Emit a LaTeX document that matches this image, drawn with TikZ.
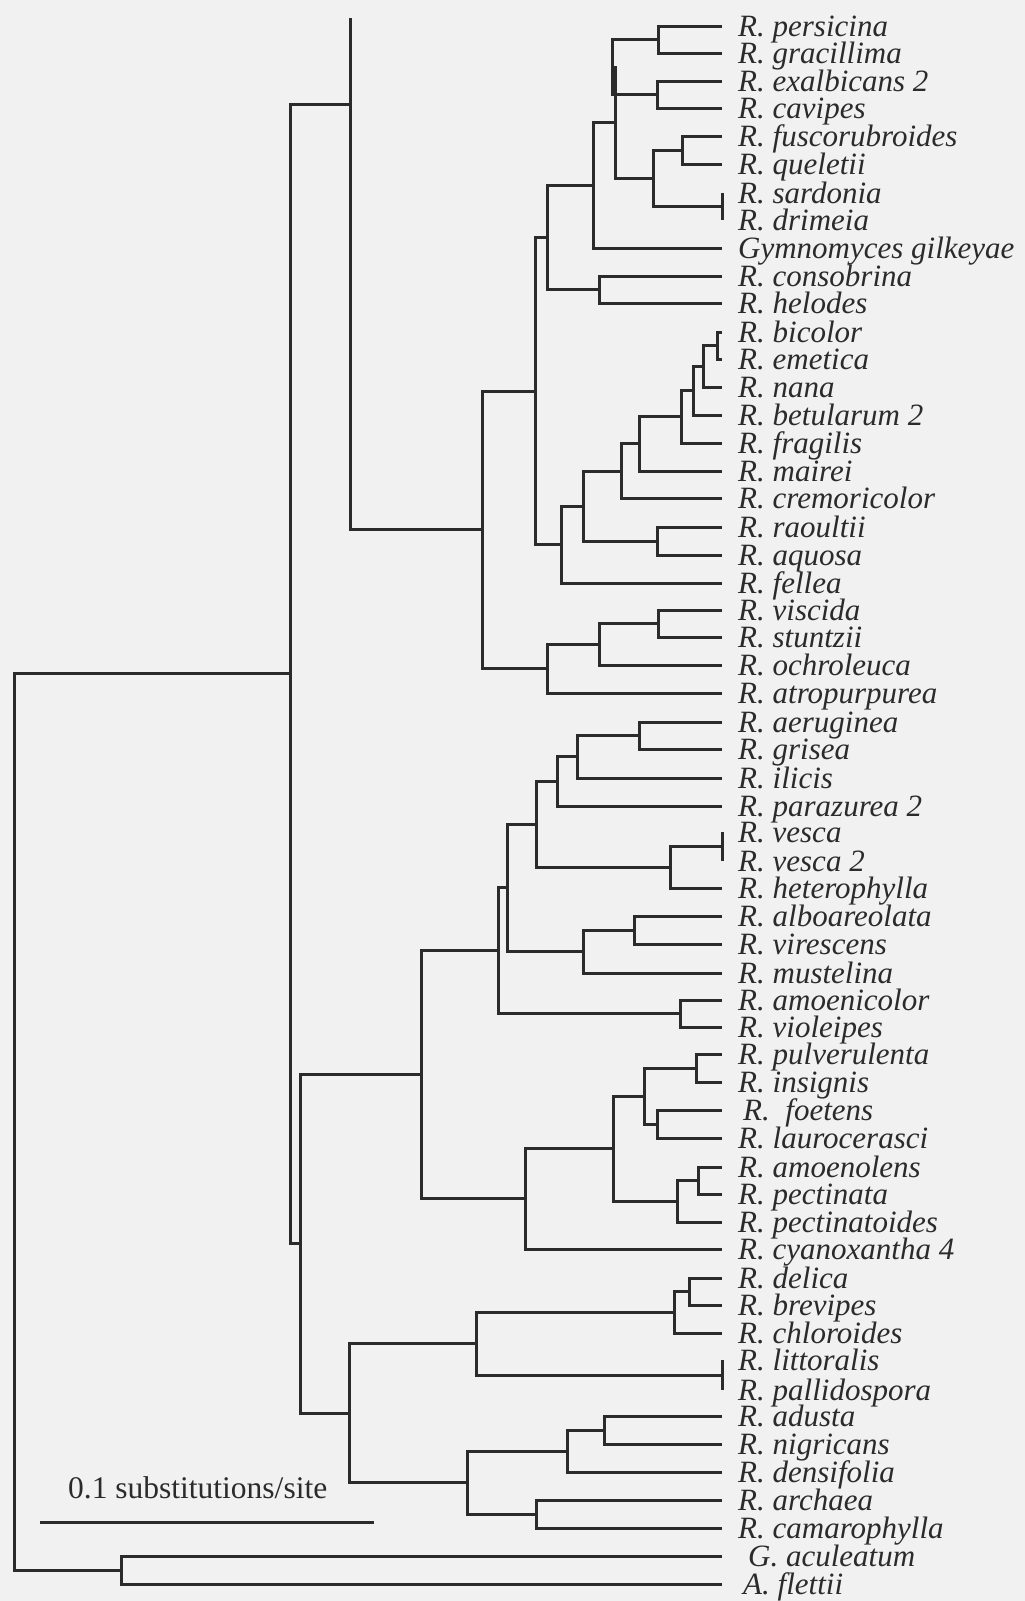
\documentclass[tikz,border=0pt]{standalone}
\usepackage{fontspec}
\setmainfont{Liberation Serif}
\usepackage{tikz}
\usetikzlibrary{calc}
\definecolor{treeink}{HTML}{2B2B2B}
\definecolor{treepaper}{HTML}{F1F1F1}

\begin{document}
\begin{tikzpicture}[
  x=1pt, y=-1pt,
  branch/.style={draw=treeink, line width=3pt},
  taxon/.style={anchor=base west, inner sep=0pt, text=treeink,
    font=\fontsize{31}{31}\selectfont\itshape},
  scalelbl/.style={anchor=base west, inner sep=0pt, text=treeink,
    font=\fontsize{31.5}{31.5}\selectfont}
]
\fill[treepaper] (0,0) rectangle (1025,1601);

% leaf tips and taxon names
\foreach \y/\name [count=\i] in {
  26/R. persicina, 53/R. gracillima, 81/R. exalbicans 2, 108/R. cavipes,
  136/R. fuscorubroides, 164/R. queletii, 193/R. sardonia, 220/R. drimeia,
  248/Gymnomyces gilkeyae, 276/R. consobrina, 303/R. helodes,
  332/R. bicolor, 359/R. emetica, 387/R. nana, 415/R. betularum 2,
  443/R. fragilis, 471/R. mairei, 498/R. cremoricolor, 527/R. raoultii,
  555/R. aquosa, 583/R. fellea, 610/R. viscida, 637/R. stuntzii,
  665/R. ochroleuca, 693/R. atropurpurea, 722/R. aeruginea, 749/R. grisea,
  778/R. ilicis, 806/R. parazurea 2, 832/R. vesca, 861/R. vesca 2,
  888/R. heterophylla, 916/R. alboareolata, 944/R. virescens,
  973/R. mustelina, 1000/R. amoenicolor, 1027/R. violeipes,
  1054/R. pulverulenta, 1082/R. insignis, 1110/\hspace{5pt}R.\ \ foetens,
  1138/R. laurocerasci, 1167/R. amoenolens, 1194/R. pectinata,
  1222/R. pectinatoides, 1249/R. cyanoxantha 4, 1278/R. delica,
  1305/R. brevipes, 1333/R. chloroides, 1360/R. littoralis,
  1390/R. pallidospora, 1416/R. adusta, 1444/R. nigricans,
  1472/R. densifolia, 1500/R. archaea, 1528/R. camarophylla,
  1556/\hspace{10pt}G. aculeatum, 1584/\hspace{5pt}A. flettii} {
  \coordinate (t\i) at (722,\y);
  \node[taxon] (l\i) at (738,\y+10) {\name};
}

% internal nodes
\coordinate (a1) at (658,39.5);   \coordinate (a2) at (657,94.5);
\coordinate (a3) at (682,150);    \coordinate (a4) at (722,206.5);
\coordinate (a5) at (653,178.3);  \coordinate (a6) at (612,67);
\coordinate (a7) at (615,122.6);  \coordinate (a8) at (593,185.3);
\coordinate (a9) at (599,289.5);  \coordinate (a10) at (547,237.4);
\coordinate (b1) at (717,345.5);  \coordinate (b2) at (703,366.2);
\coordinate (b3) at (693,390.6);  \coordinate (b4) at (681,416.8);
\coordinate (b5) at (639,443.9);  \coordinate (b6) at (621,471);
\coordinate (b7) at (657,541);    \coordinate (b8) at (583,506);
\coordinate (b9) at (561,544.5);  \coordinate (a11) at (535,391);
\coordinate (c1) at (658,623.5);  \coordinate (c2) at (599,644.2);
\coordinate (c3) at (547,668.6);  \coordinate (a12) at (482,529.8);
\coordinate (n0) at (350,104);    \coordinate (stub) at (350,18);
\coordinate (d1) at (639,735.5);  \coordinate (d2) at (577,756.8);
\coordinate (d3) at (557,781.4);  \coordinate (d4) at (722,846.5);
\coordinate (d5) at (670,867.2);  \coordinate (d6) at (536,824.3);
\coordinate (d7) at (634,930);    \coordinate (d8) at (583,951.5);
\coordinate (d9) at (507,887.9);  \coordinate (d10) at (680,1013.5);
\coordinate (d11) at (498,950.7);
\coordinate (e1) at (696,1068);   \coordinate (e2) at (657,1124);
\coordinate (e3) at (644,1096);   \coordinate (e4) at (698,1180.5);
\coordinate (e5) at (677,1201.2); \coordinate (e6) at (613,1148.6);
\coordinate (e7) at (525,1198.8); \coordinate (e8) at (421,1074.8);
\coordinate (f1) at (689,1291.5); \coordinate (f2) at (674,1312.2);
\coordinate (f3) at (722,1375);   \coordinate (f4) at (476,1343.6);
\coordinate (g1) at (604,1430);   \coordinate (g2) at (567,1451);
\coordinate (g3) at (536,1514);   \coordinate (g4) at (467,1482.5);
\coordinate (f5) at (349,1413);   \coordinate (h1) at (300,1243.9);
\coordinate (r1) at (290,673.9);  \coordinate (o1) at (121,1570);
\coordinate (root) at (14,1122);

% branches
\foreach \p/\c in {a1/t1, a1/t2, a2/t3, a2/t4, a3/t5, a3/t6, a4/t7, a4/t8,
  a5/a3, a5/a4, a6/a1, a6/a2, a7/a6, a7/a5, a8/a7, a8/t9, a9/t10, a9/t11,
  a10/a8, a10/a9, b1/t12, b1/t13, b2/b1, b2/t14, b3/b2, b3/t15, b4/b3,
  b4/t16, b5/b4, b5/t17, b6/b5, b6/t18, b7/t19, b7/t20, b8/b6, b8/b7,
  b9/b8, b9/t21, a11/a10, a11/b9, c1/t22, c1/t23, c2/c1, c2/t24, c3/c2,
  c3/t25, a12/a11, a12/c3, n0/stub, n0/a12,
  d1/t26, d1/t27, d2/d1, d2/t28, d3/d2, d3/t29, d4/t30, d4/t31, d5/d4,
  d5/t32, d6/d3, d6/d5, d7/t33, d7/t34, d8/d7, d8/t35, d9/d6, d9/d8,
  d10/t36, d10/t37, d11/d9, d11/d10, e1/t38, e1/t39, e2/t40, e2/t41,
  e3/e1, e3/e2, e4/t42, e4/t43, e5/e4, e5/t44, e6/e3, e6/e5, e7/e6,
  e7/t45, e8/d11, e8/e7, f1/t46, f1/t47, f2/f1, f2/t48, f3/t49, f3/t50,
  f4/f2, f4/f3, g1/t51, g1/t52, g2/g1, g2/t53, g3/t54, g3/t55, g4/g2,
  g4/g3, f5/f4, f5/g4, h1/e8, h1/f5, r1/n0, r1/h1, o1/t56, o1/t57,
  root/r1, root/o1}
  \draw[branch] (\p) |- (\c);

% scale bar
\coordinate (sb1) at (40,1522);
\coordinate (sb2) at (374,1522);
\draw[branch] (sb1) -- (sb2);
\node[scalelbl] (sblbl) at (68,1498) {0.1 substitutions/site};
\end{tikzpicture}
\end{document}
